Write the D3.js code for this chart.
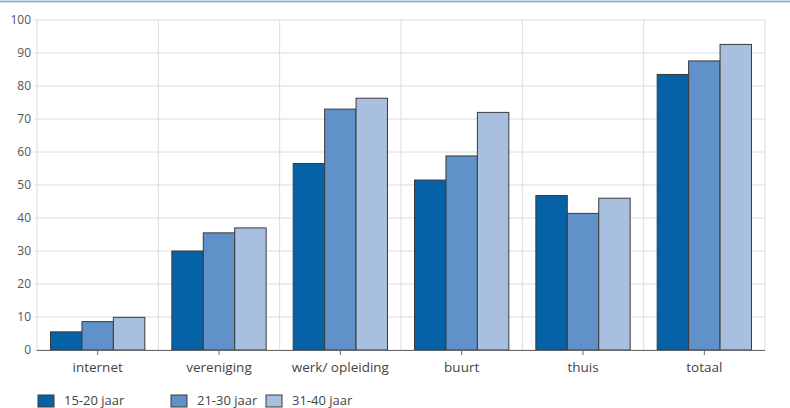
<!DOCTYPE html>
<html>
<head>
<meta charset="utf-8">
<script src="https://cdn.jsdelivr.net/npm/d3@7"></script>
<style>
  body { margin: 0; background: #fff; }
  text { font-family: "Open Sans", "Noto Sans", sans-serif; fill: #4a4a4a; }
</style>
</head>
<body>
<div class="chart"></div>
<script>
var svgWidth = 790;
var svgHeight = 408;

var margin = { top: 20, right: 25, bottom: 58, left: 37 };
var width = svgWidth - margin.left - margin.right;
var height = svgHeight - margin.top - margin.bottom;

// data
var categories = ["internet", "vereniging", "werk/ opleiding", "buurt", "thuis", "totaal"];
var seriesNames = ["15-20 jaar", "21-30 jaar", "31-40 jaar"];
var values1520 = [5.5, 30, 56.5, 51.5, 46.8, 83.5];
var values2130 = [8.6, 35.5, 73, 58.8, 41.4, 87.6];
var values3140 = [9.9, 37, 76.3, 72, 46, 92.6];
var yTicks = [0, 10, 20, 30, 40, 50, 60, 70, 80, 90, 100];
var colors = ["#0562a7", "#6091c8", "#a8bfe0"];

var series = [values1520, values2130, values3140];
var rows = categories.map(function(c, i) {
  return { cat: c, vals: series.map(function(s) { return s[i]; }) };
});

var svg = d3.select(".chart")
  .append("svg")
  .attr("width", svgWidth)
  .attr("height", svgHeight);

// blue rule along the top
svg.append("line")
  .attr("x1", 0).attr("x2", svgWidth)
  .attr("y1", 1.5).attr("y2", 1.5)
  .attr("stroke", "#8db5da")
  .attr("stroke-width", 2);

var chartGroup = svg.append("g")
  .attr("transform", `translate(${margin.left}, ${margin.top})`);

var x0 = d3.scaleBand()
  .domain(categories)
  .range([0, width]);

var x1 = d3.scaleBand()
  .domain(seriesNames)
  .range([0, x0.bandwidth()])
  .paddingOuter(0.43)
  .paddingInner(0);

var y = d3.scaleLinear()
  .domain([0, 100])
  .range([height, 0]);

// horizontal gridlines
chartGroup.append("g")
  .selectAll("line")
  .data(yTicks)
  .enter()
  .append("line")
  .attr("x1", -3).attr("x2", width)
  .attr("y1", d => y(d)).attr("y2", d => y(d))
  .attr("stroke", "#dcdcdc")
  .attr("stroke-width", 1);

// vertical gridlines at category edges
var edges = categories.map(c => x0(c)).concat([width]);
chartGroup.append("g")
  .selectAll("line")
  .data(edges)
  .enter()
  .append("line")
  .attr("x1", d => d).attr("x2", d => d)
  .attr("y1", 0).attr("y2", height)
  .attr("stroke", "#dcdcdc")
  .attr("stroke-width", 1);

// y labels
var leftAxis = d3.axisLeft(y).tickValues(yTicks).tickSize(0).tickPadding(6);
var yAxisG = chartGroup.append("g").call(leftAxis);
yAxisG.select(".domain").remove();
yAxisG.selectAll("text")
  .attr("font-size", "12px")
  .style("fill", "#555");

// bars
var groups = chartGroup.selectAll(".cat")
  .data(rows)
  .enter()
  .append("g")
  .attr("class", "cat")
  .attr("transform", d => `translate(${x0(d.cat)},0)`);

groups.selectAll("rect")
  .data(d => d.vals.map((v, i) => ({ name: seriesNames[i], v: v, i: i })))
  .enter()
  .append("rect")
  .attr("x", d => x1(d.name))
  .attr("y", d => y(d.v))
  .attr("width", x1.bandwidth())
  .attr("height", d => height - y(d.v))
  .attr("fill", d => colors[d.i])
  .attr("stroke", "#3a3a3a")
  .attr("stroke-width", 1);

// x axis
var bottomAxis = d3.axisBottom(x0).tickSize(5).tickPadding(7);
var xAxisG = chartGroup.append("g")
  .attr("transform", `translate(0, ${height})`)
  .call(bottomAxis);
xAxisG.select(".domain")
  .attr("stroke", "#666")
  .attr("d", `M0,0.5H${width}`);
xAxisG.selectAll(".tick line").attr("stroke", "#666");
xAxisG.selectAll("text")
  .attr("font-size", "13.5px")
  .style("fill", "#444");

// legend
var legendX = [38, 171, 266];
var legend = svg.append("g")
  .selectAll("g")
  .data(seriesNames)
  .enter()
  .append("g")
  .attr("transform", (d, i) => `translate(${legendX[i]}, 395)`);

legend.append("rect")
  .attr("width", 16)
  .attr("height", 12)
  .attr("fill", (d, i) => colors[i])
  .attr("stroke", "#3a3a3a")
  .attr("stroke-width", 1);

legend.append("text")
  .attr("x", 26)
  .attr("y", 9.5)
  .attr("font-size", "13px")
  .style("fill", "#444")
  .text(d => d);
</script>
</body>
</html>
